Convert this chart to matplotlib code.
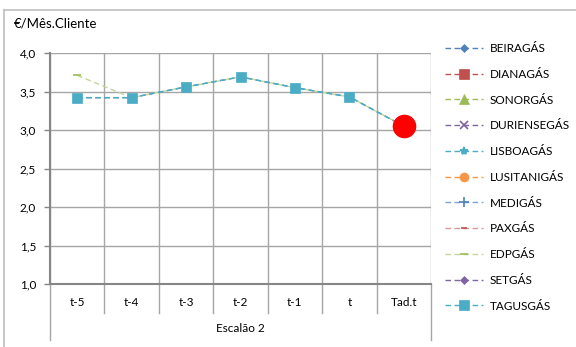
import matplotlib
matplotlib.use("Agg")
import matplotlib.pyplot as plt
import numpy as np
from matplotlib.lines import Line2D

plt.rcParams['font.family'] = ['Lato', 'DejaVu Sans']

categories = ["t-5", "t-4", "t-3", "t-2", "t-1", "t", "Tad.t"]
group_label = "Escalão 2"
nan = np.nan

series_names = ["BEIRAGÁS", "DIANAGÁS", "SONORGÁS", "DURIENSEGÁS", "LISBOAGÁS",
                "LUSITANIGÁS", "MEDIGÁS", "PAXGÁS", "EDPGÁS", "SETGÁS", "TAGUSGÁS"]
beiragas = [3.42, 3.42, 3.56, 3.69, 3.55, 3.43, 3.05]
empty = [nan] * 7
edpgas = [3.71, 3.42, 3.56, 3.69, 3.55, 3.43, 3.05]
tagusgas = [3.42, 3.42, 3.56, 3.69, 3.55, 3.43, 3.05]
series_values = [beiragas, empty, empty, empty, empty, empty, empty, empty,
                 edpgas, empty, tagusgas]
tariff_value = 3.05
yticks = [1.0, 1.5, 2.0, 2.5, 3.0, 3.5, 4.0]

line_colors = ["#4F81BD", "#C0504D", "#9BBB59", "#8064A2", "#4BACC6", "#F79646",
               "#7BA3D6", "#D99694", "#C3D69B", "#8064A2", "#4BACC6"]
marker_colors = ["#4F81BD", "#C0504D", "#9BBB59", "#8064A2", "#4BACC6", "#F79646",
                 "#4F81BD", "#C0504D", "#9BBB59", "#8064A2", "#4BACC6"]
markers = ["D", "s", "^", "x", "*", "o", "+", "_", "_", "D", "s"]
msizes = [4.5, 6.5, 6.5, 6, 6, 6.5, 7, 4, 6, 4.5, 7]

fig = plt.figure(figsize=(5.76, 3.47), dpi=100)
ax = fig.add_axes([50/576, 1-284/347, 381/576, 231/347])

x = np.arange(len(categories))
handles = []
for name, vals, lc, mc, mk, ms in zip(series_names, series_values, line_colors,
                                      marker_colors, markers, msizes):
    mew = 1.2 if mk in ("x", "+", "*", "_") else 0.5
    ln, = ax.plot(x, vals, linestyle=(0, (4, 2.5)), color=lc, linewidth=1.0,
                  marker=mk, markersize=ms, markerfacecolor=mc, markeredgecolor=mc,
                  markeredgewidth=mew, label=name)
    handles.append(ln)

ax.plot([x[-1]], [tariff_value], marker='o', markersize=16, color='#FF0000',
        linestyle='none', zorder=10)

ax.set_xlim(-0.5, len(categories) - 0.5)
ax.set_ylim(1.0, 4.0)
ax.set_yticks(yticks)
ax.set_yticklabels([f"{v:.1f}".replace('.', ',') for v in yticks], fontsize=8.5)
ax.set_xticks([])
bounds = np.arange(len(categories) + 1) - 0.5
ax.set_xticks(bounds, minor=True)
ax.tick_params(axis='x', which='minor', length=0)
ax.grid(True, which='minor', axis='x', color='#A6A6A6', linewidth=1.0)
ax.grid(True, which='major', axis='y', color='#A6A6A6', linewidth=1.0)
ax.set_axisbelow(True)
ax.tick_params(axis='y', length=4, color='#868686', width=1, pad=6)
for s in ['top', 'right']:
    ax.spines[s].set_visible(False)
ax.spines['left'].set_color('#868686')
ax.spines['left'].set_linewidth(1.5)
ax.spines['bottom'].set_color('#868686')
ax.spines['bottom'].set_linewidth(1.5)

trans = ax.get_xaxis_transform()
for i, c in enumerate(categories):
    ax.text(x[i], -18/231, c, transform=trans, ha='center', va='center', fontsize=8.5)
for b in bounds[1:-1]:
    ax.plot([b, b], [0, -29/231], transform=trans, color='#A6A6A6', linewidth=1.0,
            clip_on=False)
for b in [bounds[0], bounds[-1]]:
    ax.plot([b, b], [0, -56/231], transform=trans, color='#A6A6A6', linewidth=1.0,
            clip_on=False)
ax.text(np.mean(x), -45/231, group_label, transform=trans, ha='center', va='center',
        fontsize=8.5)

fig.text(14/576, 1-23/347, "€/Mês.Cliente", ha='left', va='center', fontsize=9.5)

fig.add_artist(Line2D([4/576, 4/576], [0, 1-10/347], color='#BFBFBF', linewidth=1.2))
fig.add_artist(Line2D([4/576, 1], [1-10/347, 1-10/347], color='#BFBFBF', linewidth=1.2))

fig.legend(handles=handles, loc='upper left', bbox_to_anchor=(445/576, 1-43/347),
           frameon=False, fontsize=8.5, handlelength=3.2, handletextpad=0.6,
           labelspacing=1.25, borderaxespad=0, borderpad=0)

fig.savefig("out.png", dpi=100)
